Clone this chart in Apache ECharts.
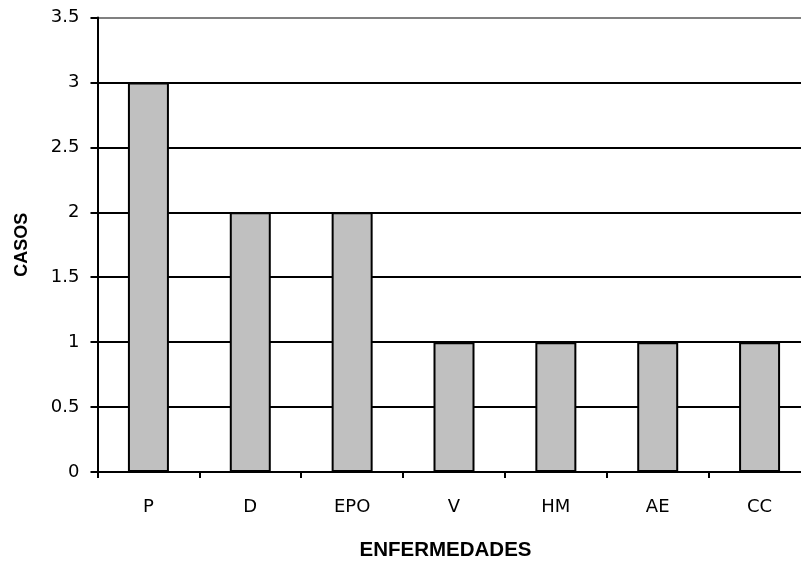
<!DOCTYPE html>
<html><head><meta charset="utf-8">
<script src="https://cdn.jsdelivr.net/npm/echarts@6/dist/echarts.min.js"></script>
<style>html,body{margin:0;padding:0;background:#fff}#c{width:801px;height:561px}</style>
</head><body><div id="c"></div>
<script>
const categories = ['P','D','EPO','V','HM','AE','CC'];
const casos = [3,2,2,1,1,1,1];
const yTitle = 'CASOS';
const xTitle = 'ENFERMEDADES';

const chart = echarts.init(document.getElementById('c'), null, {renderer:'canvas'});
chart.setOption({
  animation:false,
  backgroundColor:'#fff',
  grid:{left:97.5, top:17.5, width:713, height:454.5, containLabel:false, outerBoundsMode:'none'},
  xAxis:{
    type:'category', data:categories,
    name:xTitle, nameLocation:'middle', nameGap:68,
    nameTextStyle:{fontFamily:'Liberation Sans', fontWeight:'bold', fontSize:20.5, color:'#000', padding:[0,17,0,0]},
    axisLine:{lineStyle:{color:'#000', width:2}},
    axisTick:{show:true, length:6, lineStyle:{color:'#000', width:2}, alignWithLabel:false},
    axisLabel:{fontFamily:'DejaVu Sans', fontSize:18, color:'#000', margin:26}
  },
  yAxis:{
    type:'value', min:0, max:3.5, interval:0.5,
    name:yTitle, nameLocation:'middle', nameGap:66, nameRotate:90,
    nameTextStyle:{fontFamily:'Liberation Sans', fontWeight:'bold', fontSize:18, color:'#000'},
    axisLine:{show:true, lineStyle:{color:'#000', width:2}},
    axisTick:{show:true, length:7, lineStyle:{color:'#000', width:2}},
    axisLabel:{fontFamily:'DejaVu Sans', fontSize:18, color:'#000', margin:18},
    splitLine:{show:true, lineStyle:{color:['#000','#000','#000','#000','#000','#000','#000','#808080'], width:2}}
  },
  series:[{
    type:'bar', data:casos, barWidth:41,
    itemStyle:{color:'#C0C0C0', borderColor:'#000', borderWidth:2}
  }]
});
</script></body></html>
